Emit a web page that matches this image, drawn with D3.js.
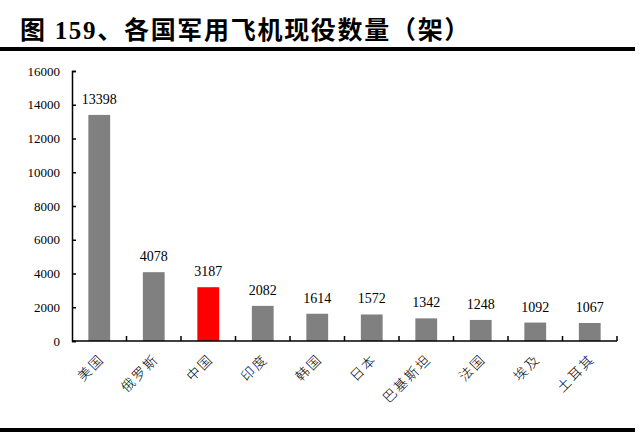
<!DOCTYPE html>
<html lang="zh">
<head>
<meta charset="UTF-8">
<script src="https://d3js.org/d3.v7.min.js"></script>
<style>
  html, body { margin: 0; padding: 0; background: #fff; }
  svg { display: block; }
  .num { font-family: "Liberation Serif", "Times New Roman", serif; font-size: 13px; fill: #000; }
  .val { font-family: "Liberation Serif", "Times New Roman", serif; font-size: 14px; fill: #000; }
  .cat { font-family: "Noto Sans CJK SC", sans-serif; font-size: 13.5px; font-weight: 300; letter-spacing: 2px; fill: #000; }
</style>
</head>
<body>
<div id="chart"></div>
<script>
  // chart data
  var countries = ["美国", "俄罗斯", "中国", "印度", "韩国", "日本", "巴基斯坦", "法国", "埃及", "土耳其"];
  var aircraft = [13398, 4078, 3187, 2082, 1614, 1572, 1342, 1248, 1092, 1067];
  var yTicks = [0, 2000, 4000, 6000, 8000, 10000, 12000, 14000, 16000];
  var highlight = "中国";

  var W = 640, H = 432;
  var plotLeft = 72, plotRight = 617, plotTop = 71, plotBottom = 341;

  var svg = d3.select("#chart").append("svg")
    .attr("width", W)
    .attr("height", H);

  // title and rules
  svg.append("text")
    .attr("x", 20)
    .attr("y", 39)
    .style("font-family", "'Liberation Serif', 'Noto Sans CJK SC', serif")
    .style("font-weight", "bold")
    .style("font-size", "25px")
    .style("letter-spacing", "1.7px")
    .text("图 159、各国军用飞机现役数量（架）");

  svg.append("rect").attr("x", 0).attr("y", 47).attr("width", 635).attr("height", 4).attr("fill", "#000");
  svg.append("rect").attr("x", 0).attr("y", 428).attr("width", 635).attr("height", 4).attr("fill", "#000");

  var x = d3.scaleBand()
    .domain(countries)
    .range([plotLeft, plotRight])
    .paddingInner(0.6)
    .paddingOuter(0.3);

  var xEdges = d3.scaleLinear().domain([0, countries.length]).range([plotLeft, plotRight]);

  var y = d3.scaleLinear()
    .domain([0, 16000])
    .range([plotBottom, plotTop]);

  // y axis with inward ticks
  var yAxis = svg.append("g")
    .attr("transform", "translate(" + plotLeft + ",0)")
    .call(d3.axisLeft(y).tickValues(yTicks).tickSize(-4).tickPadding(12).tickFormat(d3.format("d")));
  yAxis.attr("font-family", null).attr("font-size", null);
  yAxis.select(".domain").attr("stroke", "#000").attr("stroke-width", 1.5);
  yAxis.selectAll(".tick line").attr("stroke", "#000").attr("stroke-width", 1.5);
  yAxis.selectAll("text").attr("class", "num").attr("fill", "#000");

  // bars
  svg.selectAll("rect.bar")
    .data(countries)
    .enter()
    .append("rect")
    .attr("class", "bar")
    .attr("x", function (d) { return x(d); })
    .attr("y", function (d, i) { return y(aircraft[i]); })
    .attr("width", x.bandwidth())
    .attr("height", function (d, i) { return plotBottom - y(aircraft[i]); })
    .attr("fill", function (d) { return d === highlight ? "#ff0000" : "#808080"; });

  // value labels
  svg.selectAll("text.val")
    .data(countries)
    .enter()
    .append("text")
    .attr("class", "val")
    .attr("x", function (d) { return x(d) + x.bandwidth() / 2; })
    .attr("y", function (d, i) { return y(aircraft[i]) - 11; })
    .attr("text-anchor", "middle")
    .text(function (d, i) { return aircraft[i]; });

  // x axis line and inward ticks at category edges
  svg.append("line")
    .attr("x1", plotLeft).attr("x2", plotRight)
    .attr("y1", plotBottom).attr("y2", plotBottom)
    .attr("stroke", "#000").attr("stroke-width", 1.5);

  svg.selectAll("line.xtick")
    .data(d3.range(1, countries.length + 1))
    .enter()
    .append("line")
    .attr("x1", function (d) { return xEdges(d); })
    .attr("x2", function (d) { return xEdges(d); })
    .attr("y1", plotBottom)
    .attr("y2", plotBottom - 5)
    .attr("stroke", "#000").attr("stroke-width", 1.5);

  // rotated category labels
  svg.selectAll("text.cat")
    .data(countries)
    .enter()
    .append("text")
    .attr("class", "cat")
    .attr("text-anchor", "end")
    .attr("transform", function (d) {
      var cx = x(d) + x.bandwidth() / 2 + 6;
      return "translate(" + cx + "," + (plotBottom + 19) + ") rotate(-45)";
    })
    .text(function (d) { return d; });
</script>
</body>
</html>
